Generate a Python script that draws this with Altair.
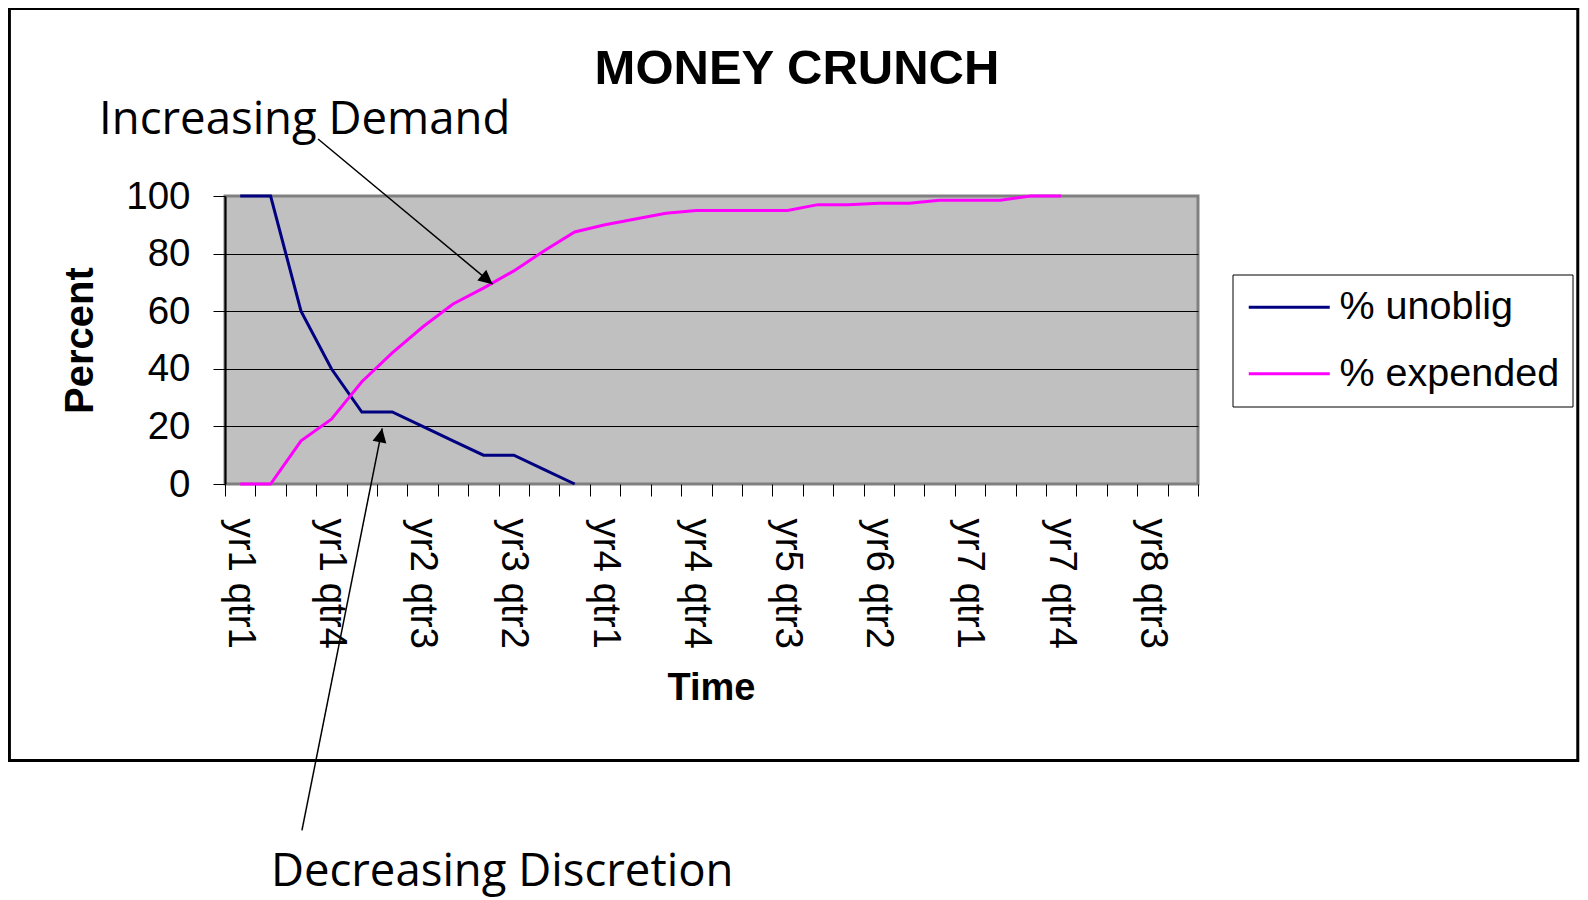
import altair as alt
import pandas as pd

# ---------------- data ----------------
quarters = [
    "yr1 qtr1", "yr1 qtr2", "yr1 qtr3", "yr1 qtr4",
    "yr2 qtr1", "yr2 qtr2", "yr2 qtr3", "yr2 qtr4",
    "yr3 qtr1", "yr3 qtr2", "yr3 qtr3", "yr3 qtr4",
    "yr4 qtr1", "yr4 qtr2", "yr4 qtr3", "yr4 qtr4",
    "yr5 qtr1", "yr5 qtr2", "yr5 qtr3", "yr5 qtr4",
    "yr6 qtr1", "yr6 qtr2", "yr6 qtr3", "yr6 qtr4",
    "yr7 qtr1", "yr7 qtr2", "yr7 qtr3", "yr7 qtr4",
    "yr8 qtr1", "yr8 qtr2", "yr8 qtr3", "yr8 qtr4",
]
unoblig = [100, 100, 60, 40, 25, 25, 20, 15, 10, 10, 5, 0]
expended = [0, 0, 15, 22.5, 35.5, 45.5, 54.5, 62.5, 68, 74, 81, 87.5,
            90, 92, 94, 95, 95, 95, 95, 97, 97, 97.5, 97.5, 98.5, 98.5, 98.5,
            100, 100]
series_names = ["% unoblig", "% expended"]
shown_labels = ["yr1 qtr1", "yr1 qtr4", "yr2 qtr3", "yr3 qtr2", "yr4 qtr1",
                "yr4 qtr4", "yr5 qtr3", "yr6 qtr2", "yr7 qtr1", "yr7 qtr4",
                "yr8 qtr3"]
y_ticks = [0, 20, 40, 60, 80, 100]

chart_title = "MONEY CRUNCH"
note_texts = ["Increasing Demand", "Decreasing Discretion"]

# ---------------- tables ----------------
rows = []
for q, v in zip(quarters, unoblig):
    rows.append({"quarter": q, "series": series_names[0], "value": v})
for q, v in zip(quarters, expended):
    rows.append({"quarter": q, "series": series_names[1], "value": v})
df = pd.DataFrame(rows)

# annotation placement, in data units of the plot (x: category index, y: percent)
title_df = pd.DataFrame({"text": [chart_title], "x": [18.31], "y": [139.0]})
notes_df = pd.DataFrame({"text": note_texts, "x": [-4.64, 1.01], "y": [121.5, -139.6]})
arrows_df = pd.DataFrame({
    "x1": [2.56, 2.03], "y1": [119.8, -120.3],
    "x2": [8.30, 4.67], "y2": [69.4, 19.3],
    "ang": [129.7, 11.3],
})
frame_df = pd.DataFrame({"x1": [-7.59], "x2": [43.99], "y1": [165.1], "y2": [-96.0]})

FONT = "Liberation Sans"
NOTE_FONT = "Open Sans"
label_expr = ("indexof([" + ",".join("'%s'" % s for s in shown_labels)
              + "], datum.label) >= 0 ? datum.label : ''")

# ---------------- main lines ----------------
lines = alt.Chart(df).mark_line(strokeWidth=3).encode(
    x=alt.X(
        "quarter:N", sort=quarters, bandPosition=0.5,
        scale=alt.Scale(type="band", domain=quarters, paddingInner=0, paddingOuter=0),
        axis=alt.Axis(
            title="Time", titleFont=FONT, titleFontSize=38, titleFontWeight="bold",
            titleColor="black", titleX=486, titleY=215, titleAlign="center",
            titleBaseline="alphabetic",
            labelExpr=label_expr, labelAngle=90, labelAlign="left",
            labelBaseline="middle", labelFont=FONT, labelFontSize=38.5,
            labelColor="black", labelPadding=22, labelOverlap=False,
            labelFlush=False, labelBound=False, labelLimit=0,
            tickBand="extent", tickSize=12, tickColor="black", tickWidth=1,
            domain=False, grid=False,
        ),
    ),
    y=alt.Y(
        "value:Q",
        scale=alt.Scale(domain=[0, 100], nice=False, zero=False),
        axis=alt.Axis(
            title="Percent", titleFont=FONT, titleFontSize=40, titleFontWeight="bold",
            titleColor="black", titleAngle=270, titleX=-133, titleY=144,
            titleAlign="center", titleBaseline="alphabetic",
            values=y_ticks, labelFont=FONT, labelFontSize=38.5, labelColor="black",
            labelPadding=23, tickSize=12, tickColor="black", tickWidth=1,
            domainColor="black", domainWidth=2,
            gridColor={"condition": {"test": "datum.value === 0 || datum.value === 100",
                                     "value": "transparent"},
                       "value": "black"},
            gridWidth=1,
        ),
    ),
    color=alt.Color(
        "series:N",
        scale=alt.Scale(domain=series_names, range=["#000080", "#FF00FF"]),
        legend=alt.Legend(
            title=None, orient="none", legendX=1007.5, legendY=78.5,
            direction="vertical",
            symbolType="M-4,0H4", symbolSize=410, symbolStrokeWidth=3,
            symbolOffset=24, labelOffset=30.5, labelLimit=0,
            labelFont=FONT, labelFontSize=39.5, labelColor="black",
            rowPadding=25.5, padding=13, strokeColor="black", fillColor="white",
        ),
    ),
)

# ---------------- annotations ----------------
xs = alt.Scale(domain=[-0.5, 31.5], nice=False, zero=False)
ys = alt.Scale(domain=[0, 100], nice=False, zero=False)

title_mark = alt.Chart(title_df).mark_text(
    font=FONT, fontSize=49, fontWeight="bold", align="center",
    baseline="alphabetic", color="black",
).encode(
    x=alt.X("x:Q", scale=xs, axis=None),
    y=alt.Y("y:Q", scale=ys, axis=None),
    text="text:N",
)

notes = alt.Chart(notes_df).mark_text(
    font=NOTE_FONT, fontSize=45.5, align="left", baseline="alphabetic", color="black",
).encode(
    x=alt.X("x:Q", scale=xs, axis=None),
    y=alt.Y("y:Q", scale=ys, axis=None),
    text="text:N",
)

arrow_lines = alt.Chart(arrows_df).mark_rule(color="black", strokeWidth=1.5).encode(
    x=alt.X("x1:Q", scale=xs, axis=None),
    y=alt.Y("y1:Q", scale=ys, axis=None),
    x2="x2:Q",
    y2="y2:Q",
)

arrow_heads = alt.Chart(arrows_df).mark_point(
    shape="M0,0L-0.5,1L0.5,1Z", filled=True, size=784, color="black", opacity=1,
).encode(
    x=alt.X("x2:Q", scale=xs, axis=None),
    y=alt.Y("y2:Q", scale=ys, axis=None),
    angle=alt.Angle("ang:Q", scale=None),
)

frame = alt.Chart(frame_df).mark_rect(
    fillOpacity=0, stroke="black", strokeWidth=3,
).encode(
    x=alt.X("x1:Q", scale=xs, axis=None),
    x2="x2:Q",
    y=alt.Y("y1:Q", scale=ys, axis=None),
    y2="y2:Q",
)

annotations = alt.layer(frame, title_mark, notes, arrow_lines, arrow_heads)

chart = alt.layer(lines, annotations).resolve_scale(
    x="independent", y="independent"
).properties(
    width=973, height=288,
    autosize=alt.AutoSizeParams(type="none"),
    padding={"left": 217, "top": 188, "right": 382, "bottom": 416},
).configure(
    font=FONT, background="white",
).configure_view(
    fill="#C0C0C0", stroke="#808080", strokeWidth=3,
)

chart.save("out.html", embed_options={"renderer": "svg", "actions": False})
